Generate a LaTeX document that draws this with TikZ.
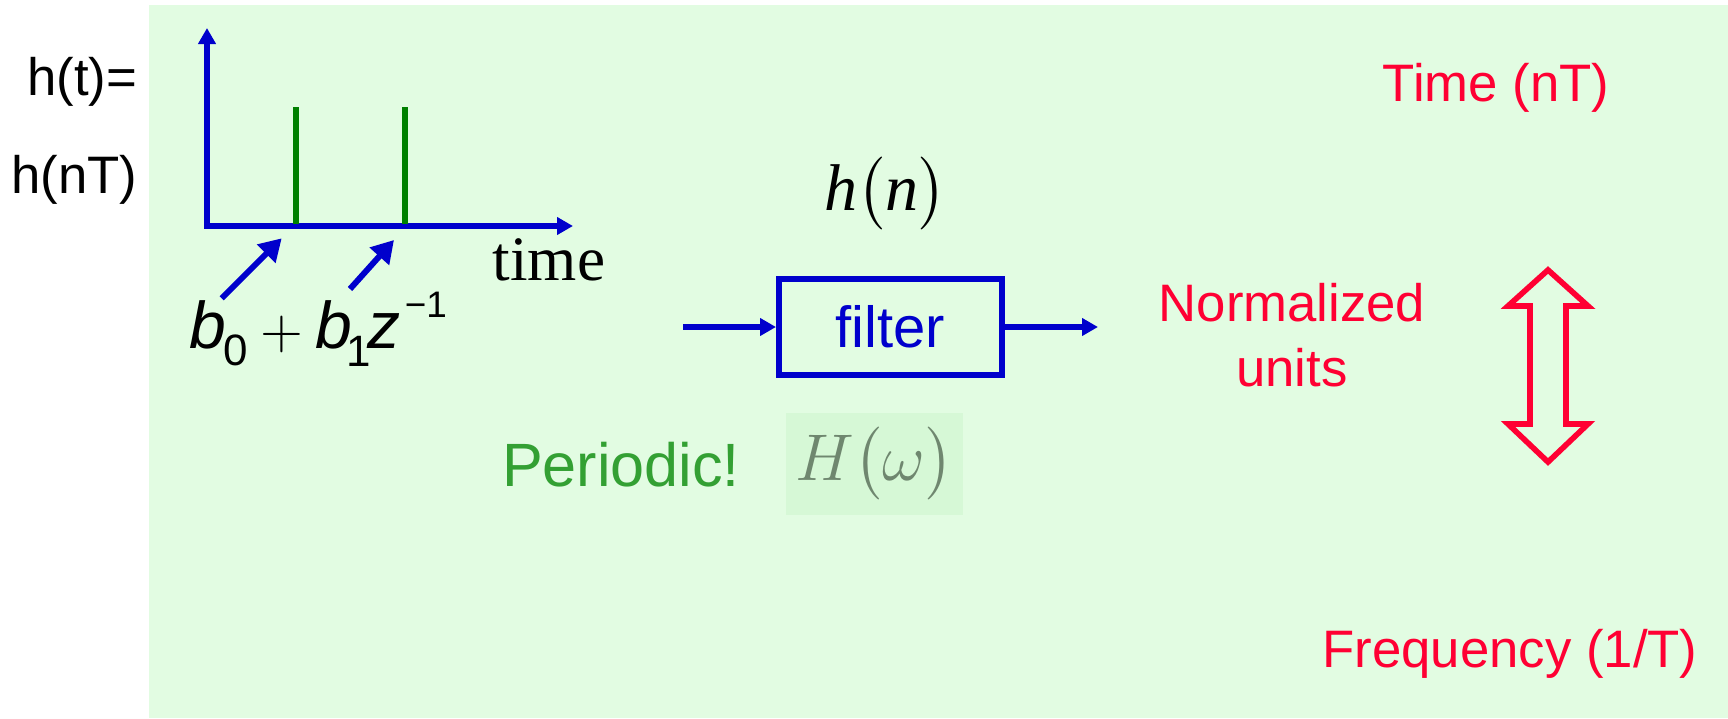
\RequirePackage{fix-cm}
\documentclass[tikz,border=0pt]{standalone}
\usepackage{amsmath}
\usepackage{fontspec}
\setmainfont{Liberation Sans}
\newfontfamily\timesfont{Liberation Serif}
\usetikzlibrary{arrows.meta}
\definecolor{bgGreen}{HTML}{E2FCE2}
\definecolor{boxGreen}{HTML}{D6F8D6}
\definecolor{lineBlue}{HTML}{0000CC}
\definecolor{stemGreen}{HTML}{008000}
\definecolor{noteGreen}{HTML}{33A033}
\definecolor{unitRed}{HTML}{FF0033}
\definecolor{greyGreen}{HTML}{6F876F}
\tikzset{
  lbl/.style={inner sep=0pt, font=\fontsize{15}{18}\selectfont},
  redlbl/.style={lbl, text=unitRed},
  mathlbl/.style={inner sep=0pt, font=\fontsize{18.8}{22.5}\selectfont},
  pointer/.style={->, lineBlue, line width=1.7pt, >={Triangle[length=2.2mm,width=2.5mm]}},
  flow/.style={->, lineBlue, line width=1.5pt}
}

\begin{document}
\begin{tikzpicture}[x=0.1mm, y=-0.1mm, >={Triangle[length=1.6mm,width=1.7mm]}]
    \useasboundingbox (0,0) rectangle (1728,718);
    \fill[bgGreen] (149,5) rectangle (1728,718);

    \node[lbl, anchor=base east] (ht) at (138,95) {h(t)=};
    \node[lbl, anchor=base east] (hnT) at (138,193) {h(nT)};

    \coordinate (ytip) at (207,28);
    \coordinate (xtip) at (573,226);
    \draw[<->, lineBlue, line width=1.7pt] (ytip) |- (xtip);
    \foreach \x in {296,405}
        \draw[stemGreen, line width=1.7pt] (\x,224) -- (\x,107);
    \node[inner sep=0pt, anchor=base, font=\timesfont\fontsize{18}{21}\selectfont] (time) at (549,280) {time};

    \node[mathlbl, anchor=base west] (coef) at (189,348)
        {\textit{b}\kern-0.3mm\raisebox{-1.7mm}{\fontsize{12.5}{14}\selectfont 0}\kern1.3mm{\fontsize{16}{18}\selectfont$+$}\kern1.2mm\textit{b}\kern-0.6mm\raisebox{-1.8mm}{\fontsize{12.5}{14}\selectfont 1}\kern-0.3mm\textit{z}\kern0.4mm\raisebox{3.1mm}{\fontsize{10.5}{12}\selectfont −1}};
    \coordinate (b0tail) at (221.7,298.3);
    \coordinate (b0tip) at (281.7,238.3);
    \coordinate (b1tail) at (350,289);
    \coordinate (b1tip) at (394,240);
    \draw[pointer] (b0tail) -- (b0tip);
    \draw[pointer] (b1tail) -- (b1tip);

    \node[mathlbl] (hn) at (885,194)
        {{\timesfont\itshape h}$\bigl(${\timesfont\itshape n}$\bigr)$};
    \node[draw=lineBlue, line width=1.7pt, minimum width=22.3mm, minimum height=9.6mm,
          inner sep=0pt, text=lineBlue, font=\fontsize{16.5}{20}\selectfont] (filter) at (890.5,327) {filter};
    \coordinate (fin) at (683,327);
    \coordinate (fout) at (1098,327);
    \draw[flow] (fin) -- (filter);
    \draw[flow] (filter) -- (fout);

    \node[inner sep=0pt, anchor=base, text=noteGreen, font=\fontsize{17.4}{21}\selectfont] (periodic) at (621,486.7) {Periodic!};
    \node[mathlbl, fill=boxGreen, minimum width=17.7mm, minimum height=10.2mm, text=greyGreen] (Hw) at (874.5,464) {$H\bigl(\omega\bigr)$};

    \node[redlbl, anchor=base] (tnT) at (1496,101) {Time (nT)};
    \node[redlbl, anchor=base] (norm) at (1292,321.7) {Normalized};
    \node[redlbl, anchor=base] (units) at (1292,386) {units};
    \node[redlbl, anchor=base] (freq) at (1510,667.6) {Frequency (1/T)};

    \draw[unitRed, line width=1.6pt, miter limit=10]
        (1548,270) -- (1588,306) -- (1566,306) -- (1566,424) -- (1588,424) -- (1548,462)
        -- (1508,424) -- (1530,424) -- (1530,306) -- (1508,306) -- cycle;
\end{tikzpicture}
\end{document}
